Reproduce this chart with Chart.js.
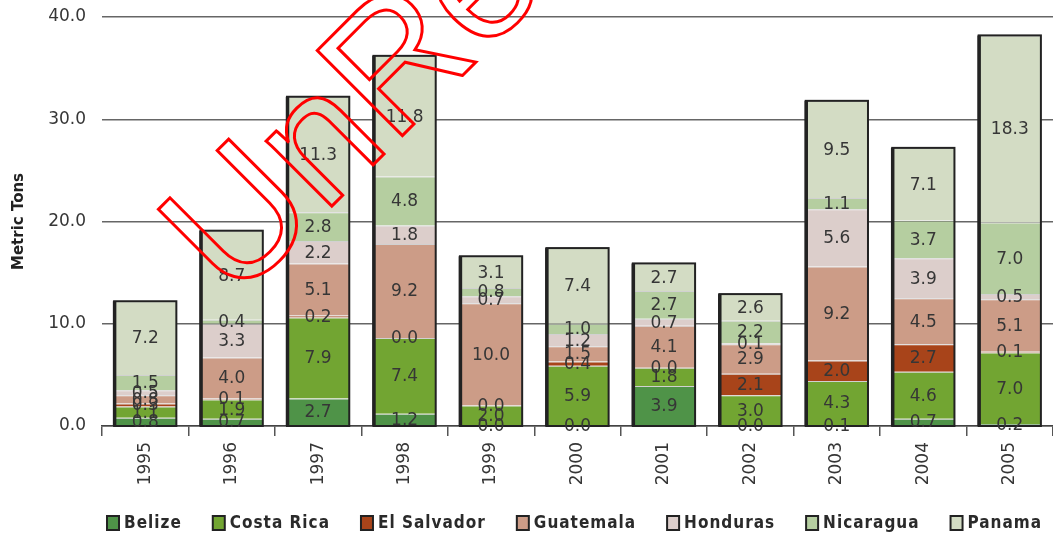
<!DOCTYPE html>
<html>
<head>
<meta charset="utf-8">
<script src="https://cdn.jsdelivr.net/npm/chart.js@4.4.1/dist/chart.umd.min.js"></script>
<style>
    html, body { margin: 0; padding: 0; background: #fff; }
    #wrap { width: 1053px; height: 536px; position: relative; }
</style>
</head>
<body>
<div id="wrap"><canvas id="chart"></canvas></div>
<script>
const years = ['1995', '1996', '1997', '1998', '1999', '2000', '2001', '2002', '2003', '2004', '2005'];
const belize     = [0.8, 0.7, 2.7, 1.2, 0.0, 0.0, 3.9, 0.0, 0.1, 0.7, 0.2];
const costaRica  = [1.1, 1.9, 7.9, 7.4, 2.0, 5.9, 1.8, 3.0, 4.3, 4.6, 7.0];
const elSalvador = [0.3, 0.1, 0.2, 0.0, 0.0, 0.4, 0.0, 2.1, 2.0, 2.7, 0.1];
const guatemala  = [0.8, 4.0, 5.1, 9.2, 10.0, 1.5, 4.1, 2.9, 9.2, 4.5, 5.1];
const honduras   = [0.5, 3.3, 2.2, 1.8, 0.7, 1.2, 0.7, 0.1, 5.6, 3.9, 0.5];
const nicaragua  = [1.5, 0.4, 2.8, 4.8, 0.8, 1.0, 2.7, 2.2, 1.1, 3.7, 7.0];
const panama     = [7.2, 8.7, 11.3, 11.8, 3.1, 7.4, 2.7, 2.6, 9.5, 7.1, 18.3];
const yMax = 40;
const yStep = 10;

const series = [
    { label: 'Belize', data: belize, color: '#4f9348' },
    { label: 'Costa Rica', data: costaRica, color: '#72a532' },
    { label: 'El Salvador', data: elSalvador, color: '#a8441a' },
    { label: 'Guatemala', data: guatemala, color: '#cc9c87' },
    { label: 'Honduras', data: honduras, color: '#dccecb' },
    { label: 'Nicaragua', data: nicaragua, color: '#b5cea0' },
    { label: 'Panama', data: panama, color: '#d3dcc4' }
];

const textColor = '#363636';

// numbers in the middle of every segment
const segmentLabels = {
    id: 'segmentLabels',
    afterDatasetsDraw(chart) {
        const { ctx } = chart;
        ctx.save();
        ctx.font = '17px "DejaVu Sans"';
        ctx.fillStyle = textColor;
        ctx.textAlign = 'center';
        ctx.textBaseline = 'middle';
        chart.data.datasets.forEach((ds, i) => {
            const meta = chart.getDatasetMeta(i);
            meta.data.forEach((bar, j) => {
                const y = (bar.y + bar.base) / 2;
                ctx.fillText(ds.data[j].toFixed(1), bar.x, y + 1);
            });
        });
        ctx.restore();
    }
};

// dark outline round each stacked column
const columnOutline = {
    id: 'columnOutline',
    afterDatasetsDraw(chart) {
        const { ctx, scales: { y } } = chart;
        const first = chart.getDatasetMeta(0).data;
        ctx.save();
        ctx.strokeStyle = '#222';
        first.forEach((bar, j) => {
            const total = chart.data.datasets.reduce((s, ds) => s + ds.data[j], 0);
            const top = y.getPixelForValue(total);
            const bottom = y.getPixelForValue(0);
            const left = bar.x - bar.width / 2;
            ctx.lineWidth = 2;
            ctx.strokeRect(left, top, bar.width, bottom - top);
            ctx.lineWidth = 3.5;
            ctx.beginPath();
            ctx.moveTo(left + 0.5, top);
            ctx.lineTo(left + 0.5, bottom);
            ctx.stroke();
        });
        ctx.restore();
    }
};

const bottomLegend = {
    id: 'bottomLegend',
    afterDraw(chart) {
        const { ctx } = chart;
        ctx.save();
        ctx.font = 'bold 17px "DejaVu Sans Condensed", "DejaVu Sans"';
        ctx.letterSpacing = '1px';
        ctx.textBaseline = 'middle';
        ctx.textAlign = 'left';
        let x = 107;
        const yMid = 523;
        chart.data.datasets.forEach(ds => {
            ctx.fillStyle = ds.backgroundColor;
            ctx.fillRect(x, yMid - 7, 12, 14);
            ctx.strokeStyle = '#222';
            ctx.lineWidth = 2;
            ctx.strokeRect(x, yMid - 7, 12, 14);
            ctx.fillStyle = '#2a2a2a';
            ctx.fillText(ds.label, x + 17, yMid + 1);
            x += 17 + ctx.measureText(ds.label).width + 31;
        });
        ctx.restore();
    }
};

const watermark = {
    id: 'watermark',
    afterDraw(chart) {
        const { ctx } = chart;
        ctx.save();
        ctx.translate(234, 304);
        ctx.rotate(-Math.PI / 4);
        ctx.font = '175px "Liberation Sans"';
        ctx.textBaseline = 'alphabetic';
        ctx.strokeStyle = '#ff0000';
        ctx.lineWidth = 3;
        ctx.strokeText('UnRegistered', 0, 0);
        ctx.restore();
    }
};

const ctx = document.getElementById('chart').getContext('2d');
new Chart(ctx, {
    type: 'bar',
    data: {
        labels: years,
        datasets: series.map(s => ({
            label: s.label,
            data: s.data,
            backgroundColor: s.color,
            borderColor: 'rgba(0, 0, 0, 0.18)',
            borderWidth: { top: 1, bottom: 0, left: 0, right: 0 },
            borderSkipped: false,
            barPercentage: 0.72,
            categoryPercentage: 1.0
        }))
    },
    options: {
        responsive: true,
        maintainAspectRatio: false,
        animation: false,
        layout: { padding: { top: 17, right: 0, bottom: 0, left: 0 } },
        scales: {
            x: {
                stacked: true,
                offset: true,
                grid: {
                    display: true,
                    offset: true,
                    drawOnChartArea: false,
                    drawTicks: true,
                    tickLength: 10,
                    color: '#555',
                    lineWidth: 1.5
                },
                border: { display: true, color: '#444', width: 1.5 },
                ticks: {
                    color: textColor,
                    font: { family: 'DejaVu Sans', size: 17 },
                    minRotation: 90,
                    maxRotation: 90,
                    padding: 6
                },
                afterFit: (scale) => {
                    scale.height = 110;
                    scale.paddingLeft = 0;
                    scale.paddingRight = 0;
                }
            },
            y: {
                stacked: true,
                min: 0,
                max: yMax,
                border: { display: false },
                grid: { color: '#666', lineWidth: 1.5, drawTicks: false },
                ticks: {
                    stepSize: yStep,
                    color: textColor,
                    padding: 16,
                    font: { family: 'DejaVu Sans', size: 17 },
                    callback: (v) => v.toFixed(1)
                },
                title: {
                    display: true,
                    text: 'Metric Tons',
                    color: '#222',
                    font: { family: 'DejaVu Sans', size: 15, weight: 'bold' },
                    padding: { top: 10, bottom: 0 }
                },
                afterFit: (scale) => {
                    scale.width = 102;
                    scale.paddingTop = 0;
                    scale.paddingBottom = 0;
                }
            }
        },
        plugins: {
            legend: { display: false },
            tooltip: { enabled: false }
        }
    },
    plugins: [columnOutline, segmentLabels, bottomLegend, watermark]
});
</script>
</body>
</html>
